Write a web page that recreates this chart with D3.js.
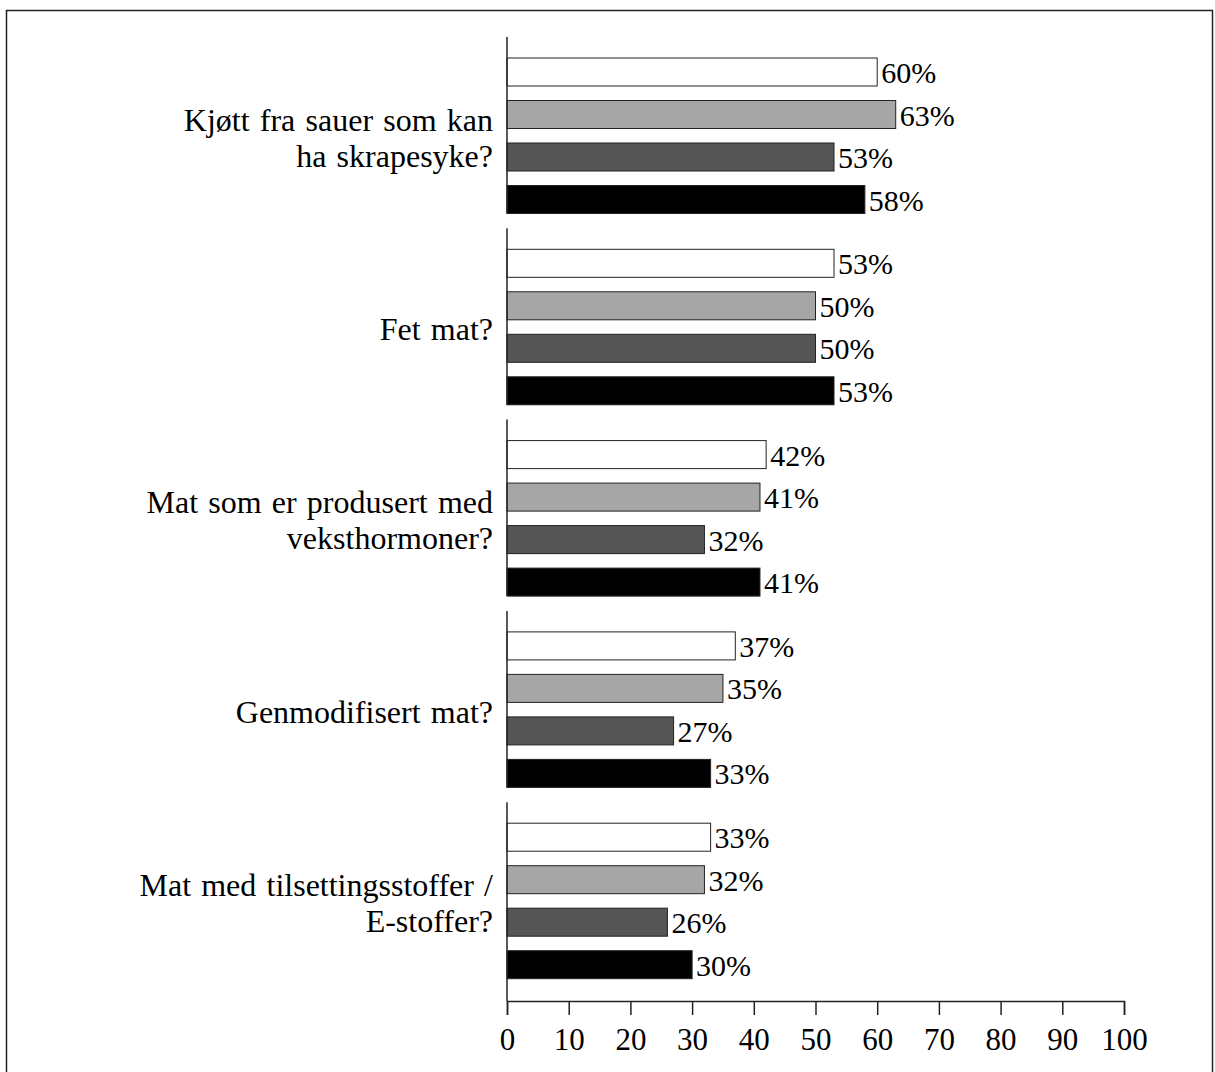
<!DOCTYPE html>
<html>
<head>
<meta charset="utf-8">
<script src="https://cdn.jsdelivr.net/npm/d3@7"></script>
<style>
  body { margin: 0; background: #fff; }
  text { font-family: "Liberation Serif", "Times New Roman", serif; fill: #000; }
</style>
</head>
<body>
<svg id="chart" width="1215" height="1072"></svg>
<script>
// categories (each split into display lines)
const categories = [
  ["Kjøtt fra sauer som kan", "ha skrapesyke?"],
  ["Fet mat?"],
  ["Mat som er produsert med", "veksthormoner?"],
  ["Genmodifisert mat?"],
  ["Mat med tilsettingsstoffer /", "E-stoffer?"]
]
const seriesKeys = ["s1", "s2", "s3", "s4"]
const seriesColors = ["#ffffff", "#a6a6a6", "#555555", "#000000"]

// values per series, one per category
const s1 = [60, 53, 42, 37, 33]
const s2 = [63, 50, 41, 35, 32]
const s3 = [53, 50, 32, 27, 26]
const s4 = [58, 53, 41, 33, 30]
const seriesValues = [s1, s2, s3, s4]

const xTicks = [0, 10, 20, 30, 40, 50, 60, 70, 80, 90, 100]

let svg = d3.select("#chart")

// frame
svg.append("rect")
  .attr("x", 6.5).attr("y", 10.5)
  .attr("width", 1206).attr("height", 1080)
  .attr("fill", "none")
  .attr("stroke", "#222")
  .attr("stroke-width", 1.5)

let x = d3.scaleLinear().domain([0, 100]).range([507, 1124])
let y0 = d3.scaleBand().domain(d3.range(categories.length)).range([37, 993.5])
let y1 = d3.scaleBand().domain(seriesKeys).range([13.75, 183.75])
  .paddingInner(0.341).paddingOuter(0.1705)
let z = d3.scaleOrdinal().domain(seriesKeys).range(seriesColors)

const axisY = 1001

let groups = svg.selectAll(".grp")
  .data(categories.map((c, i) => ({
    i: i,
    lines: c,
    bars: seriesKeys.map((k, j) => ({ key: k, value: seriesValues[j][i] }))
  })))
  .enter().append("g")
  .attr("class", "grp")
  .attr("transform", d => "translate(0," + y0(d.i) + ")")

// bars
groups.selectAll("rect")
  .data(d => d.bars)
  .enter().append("rect")
  .attr("x", x(0))
  .attr("y", d => y1(d.key))
  .attr("width", d => x(d.value) - x(0))
  .attr("height", y1.bandwidth())
  .attr("fill", d => z(d.key))
  .attr("stroke", "#222")
  .attr("stroke-width", 1)

// value labels
groups.selectAll(".val")
  .data(d => d.bars)
  .enter().append("text")
  .attr("class", "val")
  .attr("x", d => x(d.value) + 4)
  .attr("y", d => y1(d.key) + y1.bandwidth() / 2 + 11)
  .style("font-size", "30px")
  .text(d => d.value + "%")

// y axis segments, one per group
groups.append("line")
  .attr("x1", x(0)).attr("x2", x(0))
  .attr("y1", 0)
  .attr("y2", d => d.i === categories.length - 1 ? axisY - y0(d.i) : y1(seriesKeys[3]) + y1.bandwidth())
  .attr("stroke", "#222")
  .attr("stroke-width", 1.5)

// category labels
const lineH = 36
groups.append("text")
  .attr("text-anchor", "end")
  .style("font-size", "32px")
  .style("word-spacing", "2.2px")
  .each(function(d) {
    let mid = (y1(seriesKeys[0]) + y1(seriesKeys[3]) + y1.bandwidth()) / 2 + 2
    let top = mid - (d.lines.length - 1) * lineH / 2
    d3.select(this).selectAll("tspan")
      .data(d.lines)
      .enter().append("tspan")
      .attr("x", 493)
      .attr("y", (l, k) => top + k * lineH + 11)
      .text(l => l)
  })

// x axis
let xAxis = svg.append("g")
  .attr("transform", "translate(0," + axisY + ")")
  .call(d3.axisBottom(x).tickValues(xTicks).tickSizeOuter(0).tickSize(14).tickPadding(13))
xAxis.select(".domain").attr("stroke", "#222").attr("stroke-width", 1.5)
xAxis.selectAll(".tick line").attr("stroke", "#222").attr("stroke-width", 1.5)
xAxis.selectAll(".tick text")
  .style("font-family", "'Liberation Serif', 'Times New Roman', serif")
  .style("font-size", "31px")
  .attr("fill", "#000")
</script>
</body>
</html>
